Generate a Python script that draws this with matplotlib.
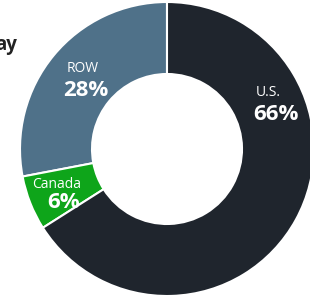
import matplotlib
matplotlib.use('Agg')
import matplotlib.pyplot as plt

# 데이터
regions = ['ROW', 'Canada', 'U.S.']
shares = [28, 6, 66]
colors = ['#4f7189', '#0ea51a', '#1f252d']

# 라벨 위치 (픽셀, 위에서부터): 이름 x, y / 퍼센트 x, y
label_pos = {'ROW': (83, 69, 86, 90),
             'Canada': (57, 184, 64, 202),
             'U.S.': (268, 93, 276, 114)}

W, H = 310, 299
fig = plt.figure(figsize=(W / 100, H / 100), dpi=100)
ax = fig.add_axes([0, 0, 1, 1])

ax.pie(shares, colors=colors, startangle=90, counterclock=True,
       center=(167, H - 149), radius=147, frame=False,
       wedgeprops=dict(width=72, edgecolor='white', linewidth=1.5))

ax.set_xlim(0, W)
ax.set_ylim(0, H)
ax.set_aspect('equal')
ax.axis('off')

for name, share in zip(regions, shares):
    x1, y1, x2, y2 = label_pos[name]
    ax.text(x1, H - y1, name, ha='center', va='center', color='white',
            fontsize=10, family='Open Sans')
    ax.text(x2, H - y2, f'{share}%', ha='center', va='center', color='white',
            fontsize=16, fontweight='bold', family='Open Sans')

# 잘린 제목 (원본에서도 왼쪽이 잘려 있음)
ax.text(-5, H - 45, 'ay', ha='left', va='center', color='#222222',
        fontsize=13.5, fontweight='bold', family='Open Sans')

fig.savefig('out.png', dpi=100)
